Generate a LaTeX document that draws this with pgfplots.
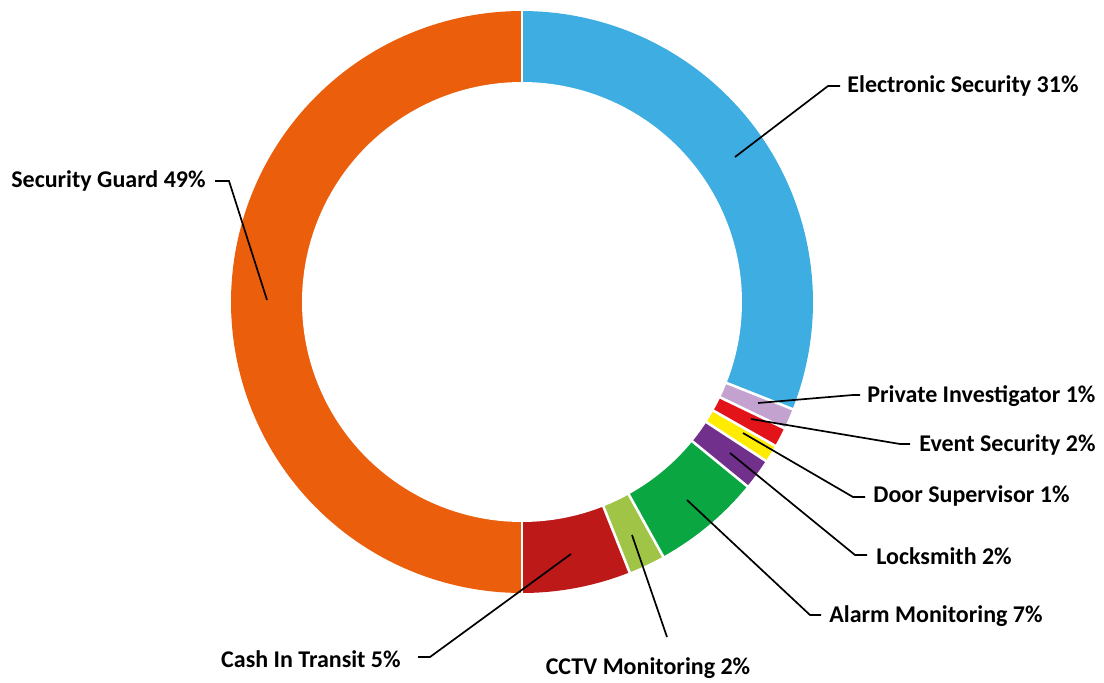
\documentclass[border=0pt]{standalone}
\usepackage{fontspec}
\setmainfont{Carlito}
\usepackage{pgfplots}
\pgfplotsset{compat=1.18}
\definecolor{cES}{HTML}{3DADE2}
\definecolor{cSG}{HTML}{EB5E0B}
\definecolor{cPI}{HTML}{C4A2D0}
\definecolor{cEV}{HTML}{E31419}
\definecolor{cDS}{HTML}{FFEC00}
\definecolor{cLS}{HTML}{70308C}
\definecolor{cAM}{HTML}{09A642}
\definecolor{cCC}{HTML}{A0C546}
\definecolor{cCT}{HTML}{BE1919}
% shares in percent, clockwise from the top
\def\vES{31.00}\def\vPI{1.14}\def\vEV{1.08}\def\vDS{0.97}\def\vLS{1.72}
\def\vAM{6.03}\def\vCC{2.03}\def\vCT{6.03}\def\vSG{50.00}
\pgfmathsetmacro\aA{90}
\pgfmathsetmacro\aB{\aA-3.6*\vES}
\pgfmathsetmacro\aC{\aB-3.6*\vPI}
\pgfmathsetmacro\aD{\aC-3.6*\vEV}
\pgfmathsetmacro\aE{\aD-3.6*\vDS}
\pgfmathsetmacro\aF{\aE-3.6*\vLS}
\pgfmathsetmacro\aG{\aF-3.6*\vAM}
\pgfmathsetmacro\aH{\aG-3.6*\vCC}
\pgfmathsetmacro\aI{\aH-3.6*\vCT}
\pgfmathsetmacro\aJ{\aI-3.6*\vSG}
\begin{document}
\begin{tikzpicture}[lbl/.style={font=\fontsize{12}{14}\selectfont\bfseries, inner sep=0pt}]
\begin{axis}[
  scale only axis, width=552pt, height=341pt,
  xmin=-522, xmax=582, ymin=-380, ymax=302,
  hide axis, clip=false, enlargelimits=false]
% slices
\addplot[fill=cES, draw=none, data cs=polar, domain=\aB:\aA, samples=80] ({x},{291}) -- (axis cs:0,0) -- cycle;
\addplot[fill=cPI, draw=none, data cs=polar, domain=\aC:\aB, samples=10] ({x},{291}) -- (axis cs:0,0) -- cycle;
\addplot[fill=cEV, draw=none, data cs=polar, domain=\aD:\aC, samples=10] ({x},{291}) -- (axis cs:0,0) -- cycle;
\addplot[fill=cDS, draw=none, data cs=polar, domain=\aE:\aD, samples=10] ({x},{291}) -- (axis cs:0,0) -- cycle;
\addplot[fill=cLS, draw=none, data cs=polar, domain=\aF:\aE, samples=10] ({x},{291}) -- (axis cs:0,0) -- cycle;
\addplot[fill=cAM, draw=none, data cs=polar, domain=\aG:\aF, samples=30] ({x},{291}) -- (axis cs:0,0) -- cycle;
\addplot[fill=cCC, draw=none, data cs=polar, domain=\aH:\aG, samples=10] ({x},{291}) -- (axis cs:0,0) -- cycle;
\addplot[fill=cCT, draw=none, data cs=polar, domain=\aI:\aH, samples=30] ({x},{291}) -- (axis cs:0,0) -- cycle;
\addplot[fill=cSG, draw=none, data cs=polar, domain=\aJ:\aI, samples=120] ({x},{291}) -- (axis cs:0,0) -- cycle;
% hole
\addplot[fill=white, draw=none, data cs=polar, domain=0:360, samples=181] ({x},{220}) -- cycle;
% white separators
\foreach \a in {\aA,\aB,\aC,\aD,\aE,\aF,\aG,\aH,\aI}{
  \edef\tmp{\noexpand\addplot[white, line width=1.3pt, data cs=polar] coordinates {(\a,200) (\a,300)};}
  \tmp
}
% leader lines
\addplot[black, line width=0.85pt] coordinates {(213,145) (306,216) (318,216)};
\addplot[black, line width=0.85pt] coordinates {(-255,2) (-293,121) (-307,121)};
\addplot[black, line width=0.85pt] coordinates {(236,-101) (331,-93) (338,-93)};
\addplot[black, line width=0.85pt] coordinates {(229,-117) (378,-142) (388,-142)};
\addplot[black, line width=0.85pt] coordinates {(221,-131) (331,-195) (343,-195)};
\addplot[black, line width=0.85pt] coordinates {(208,-151) (333,-253) (345,-253)};
\addplot[black, line width=0.85pt] coordinates {(165,-198) (288,-313) (299,-313)};
\addplot[black, line width=0.85pt] coordinates {(110,-233) (145,-335)};
\addplot[black, line width=0.85pt] coordinates {(49,-252) (-92,-355) (-104,-355)};
% labels
\node[lbl, anchor=west] at (axis cs:325,216) {Electronic Security 31\%};
\node[lbl, anchor=east] at (axis cs:-316,121) {Security Guard 49\%};
\node[lbl, anchor=west] at (axis cs:345,-94) {Private Investigator 1\%};
\node[lbl, anchor=west] at (axis cs:397,-143) {Event Security 2\%};
\node[lbl, anchor=west] at (axis cs:351,-194) {Door Supervisor 1\%};
\node[lbl, anchor=west] at (axis cs:354,-254) {Locksmith 2\%};
\node[lbl, anchor=west] at (axis cs:307,-314) {Alarm Monitoring 7\%};
\node[lbl, anchor=center] at (axis cs:126,-366) {CCTV Monitoring 2\%};
\node[lbl, anchor=east] at (axis cs:-121,-357) {Cash In Transit 5\%};
\end{axis}
\pgfresetboundingbox
\path[use as bounding box] (0,0) rectangle (552pt,341pt);
\end{tikzpicture}
\end{document}
